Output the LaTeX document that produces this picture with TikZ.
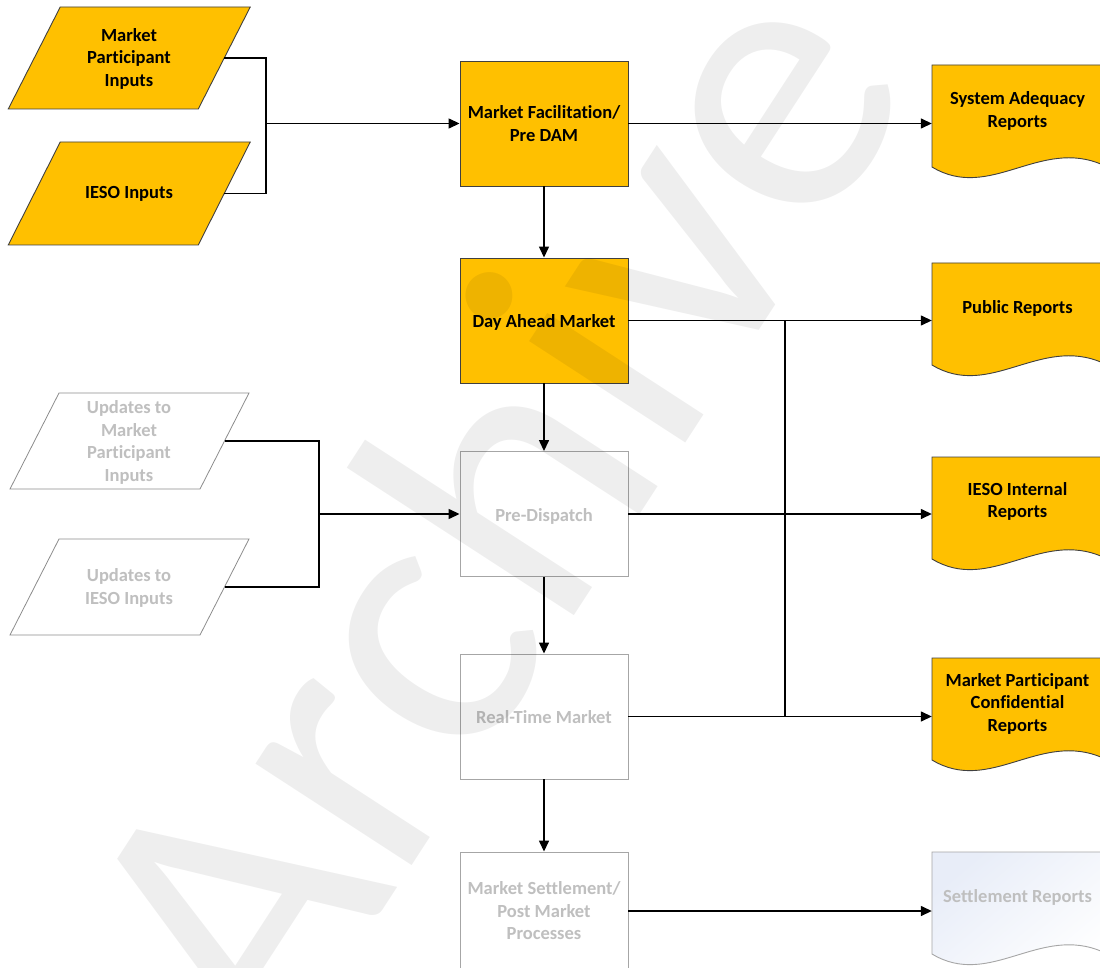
\documentclass[tikz,border=0pt]{standalone}
\usepackage{fontspec}
\setmainfont{Carlito}[Ligatures={NoCommon}, RawFeature={-liga;-clig;-dlig}]
\usetikzlibrary{arrows.meta,calc}
\definecolor{ylw}{HTML}{FFC000}
\definecolor{fadetxt}{HTML}{BFBFBF}
\definecolor{fadeln}{HTML}{A6A6A6}
\definecolor{paraln}{HTML}{8C8C8C}
\definecolor{ylwln}{HTML}{404040}
\definecolor{setblue}{HTML}{E8EDF8}
% document shape: #1 = top y, #2 = style
\newcommand\docshape[2]{\draw[#2] (932,#1) -- (1103,#1) -- (1103,{#1+100}) .. controls (1040,{#1+72}) and (990,{#1+137}) .. (932,{#1+102}) -- cycle;}
% parallelogram: cx, cy, half height, skew, style
\newcommand\paragram[5]{\draw[#5] ({#1-95+#4},{#2-#3}) -- ({#1+95+#4},{#2-#3}) -- ({#1+95-#4},{#2+#3}) -- ({#1-95-#4},{#2+#3}) -- cycle;}
\begin{document}
\begin{tikzpicture}[x=1pt,y=-1pt,
  lbl/.style={font=\bfseries\fontsize{18.5}{22.5}\selectfont, align=center, inner sep=0pt},
  hot/.style={fill=ylw, draw=ylwln, line width=0.9pt},
  cold/.style={fill=white, draw=fadeln, line width=0.9pt},
  coldpara/.style={fill=white, draw=paraln, line width=0.8pt},
  box/.style={lbl, minimum width=168pt, minimum height=125pt},
  lowtext/.style={text height=15pt, text depth=1pt},
  doclbl/.style={lbl, minimum width=171pt},
  faded/.style={text=fadetxt},
  ln/.style={draw=black, line width=1.4pt},
  arr/.style={ln, -{Triangle[length=11pt,width=10pt]}}
]
\useasboundingbox (0,0) rectangle (1100,968);
\fill[white] (0,0) rectangle (1100,968);

% input parallelograms
\paragram{129.25}{58}{51}{26}{hot}
\paragram{129.25}{193.5}{51.5}{26}{hot}
\paragram{129.5}{441}{48}{24.5}{coldpara}
\paragram{129.5}{587}{48}{24.5}{coldpara}
\node[lbl] (mpi) at (129,58.5) {Market\\Participant\\Inputs};
\node[lbl] (iesoi) at (129,194) {IESO Inputs};
\node[lbl, faded] (ump) at (129,442.5) {Updates to\\Market\\Participant\\Inputs};
\node[lbl, faded] (uieso) at (129,588) {Updates to\\IESO Inputs};
\coordinate (mpi-r) at (224.25,58);
\coordinate (iesoi-r) at (224.25,193.5);
\coordinate (ump-r) at (224.5,441);
\coordinate (uieso-r) at (224.5,587);

% process boxes
\node[box, hot] (mf) at (544,123.5) {Market Facilitation/\\Pre DAM};
\node[box, hot, lowtext] (dam) at (544,320.5) {Day Ahead Market};
\node[box, cold, faded, lowtext] (pd) at (544,514) {Pre-Dispatch};
\node[box, cold, faded, lowtext] (rtm) at (544,716.5) {Real-Time Market};
\node[lbl, faded, draw=fadeln, fill=white, line width=0.9pt, minimum width=168pt, minimum height=118pt] (ms) at (544,911) {Market Settlement/\\Post Market\\Processes};

% report documents
\docshape{65}{hot}
\docshape{263}{hot}
\docshape{457}{hot}
\docshape{658}{hot}
\docshape{852}{draw=fadeln, line width=0.9pt, top color=setblue, bottom color=white, shading angle=40}
\node[doclbl] (sa) at (1017.5,111) {System Adequacy\\Reports};
\node[doclbl] (pr) at (1017.5,308.5) {Public Reports};
\node[doclbl] (ii) at (1017.5,501.5) {IESO Internal\\Reports};
\node[doclbl] (mpc) at (1017.5,703.5) {Market Participant\\Confidential\\Reports};
\node[doclbl, faded] (st) at (1017.5,897.5) {Settlement Reports};

% connectors
\coordinate (j1) at (266,123.5);
\coordinate (j2) at (319,514);
\coordinate (jr) at (785,400);
\draw[ln] (mpi-r) -| (j1) |- (iesoi-r);
\draw[arr] (j1) -- (mf.west);
\draw[arr] (mf.east) -- (mf.east -| sa.west);
\draw[arr] (mf.south) -- (dam.north);
\draw[arr] (dam.east) -- (dam.east -| pr.west);
\draw[arr] (dam.south) -- (pd.north);
\draw[ln] (ump-r) -| (j2) |- (uieso-r);
\draw[arr] (j2) -- (pd.west);
\draw[arr] (pd.east) -- (pd.east -| ii.west);
\draw[arr] (pd.south) -- (rtm.north);
\draw[arr] (rtm.east) -- (rtm.east -| mpc.west);
\draw[ln] (dam.east -| jr) -- (rtm.east -| jr);
\draw[arr] (rtm.south) -- (ms.north);
\draw[arr] (ms.east) -- (ms.east -| st.west);

% watermark
\node[rotate=57, anchor=base, inner sep=0pt, font=\fontsize{390}{390}\selectfont, text=black, text opacity=0.065] (wm) at (597,580) {Archive};
\end{tikzpicture}
\end{document}
